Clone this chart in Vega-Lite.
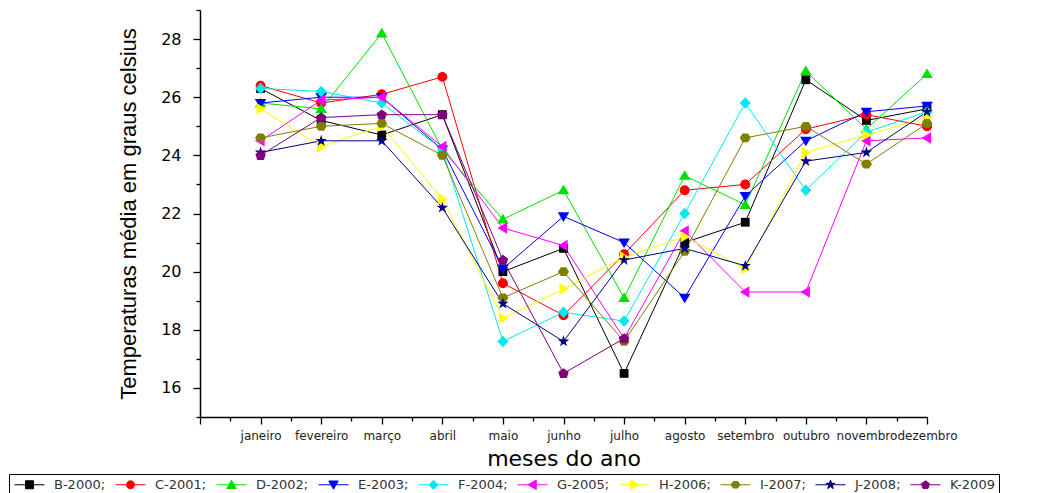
{
  "$schema": "https://vega.github.io/schema/vega-lite/v6.json",
  "width": 727,
  "height": 407,
  "autosize": {"type": "none"},
  "padding": {"left": 200, "top": 10, "right": 130, "bottom": 76},
  "background": "white",
  "config": {
    "view": {"stroke": null},
    "axis": {"grid": false, "domainColor": "#000", "domainWidth": 1.5, "tickColor": "#000", "tickWidth": 1.3, "labelColor": "#000", "titleColor": "#000", "titleFontWeight": "normal"}
  },
  "data": {"values": [
    {"serie": "B-2000", "mes": 1, "temp": 26.3}, {"serie": "B-2000", "mes": 2, "temp": 25.2}, {"serie": "B-2000", "mes": 3, "temp": 24.7}, {"serie": "B-2000", "mes": 4, "temp": 25.4}, {"serie": "B-2000", "mes": 5, "temp": 20.0}, {"serie": "B-2000", "mes": 6, "temp": 20.8}, {"serie": "B-2000", "mes": 7, "temp": 16.5}, {"serie": "B-2000", "mes": 8, "temp": 21.0}, {"serie": "B-2000", "mes": 9, "temp": 21.7}, {"serie": "B-2000", "mes": 10, "temp": 26.6}, {"serie": "B-2000", "mes": 11, "temp": 25.2}, {"serie": "B-2000", "mes": 12, "temp": 25.6},
    {"serie": "C-2001", "mes": 1, "temp": 26.4}, {"serie": "C-2001", "mes": 2, "temp": 25.8}, {"serie": "C-2001", "mes": 3, "temp": 26.1}, {"serie": "C-2001", "mes": 4, "temp": 26.7}, {"serie": "C-2001", "mes": 5, "temp": 19.6}, {"serie": "C-2001", "mes": 6, "temp": 18.5}, {"serie": "C-2001", "mes": 7, "temp": 20.6}, {"serie": "C-2001", "mes": 8, "temp": 22.8}, {"serie": "C-2001", "mes": 9, "temp": 23.0}, {"serie": "C-2001", "mes": 10, "temp": 24.9}, {"serie": "C-2001", "mes": 11, "temp": 25.4}, {"serie": "C-2001", "mes": 12, "temp": 25.0},
    {"serie": "D-2002", "mes": 1, "temp": 25.8}, {"serie": "D-2002", "mes": 2, "temp": 25.6}, {"serie": "D-2002", "mes": 3, "temp": 28.2}, {"serie": "D-2002", "mes": 4, "temp": 24.2}, {"serie": "D-2002", "mes": 5, "temp": 21.8}, {"serie": "D-2002", "mes": 6, "temp": 22.8}, {"serie": "D-2002", "mes": 7, "temp": 19.1}, {"serie": "D-2002", "mes": 8, "temp": 23.3}, {"serie": "D-2002", "mes": 9, "temp": 22.3}, {"serie": "D-2002", "mes": 10, "temp": 26.9}, {"serie": "D-2002", "mes": 11, "temp": 24.9}, {"serie": "D-2002", "mes": 12, "temp": 26.8},
    {"serie": "E-2003", "mes": 1, "temp": 25.8}, {"serie": "E-2003", "mes": 2, "temp": 26.0}, {"serie": "E-2003", "mes": 3, "temp": 26.0}, {"serie": "E-2003", "mes": 4, "temp": 24.2}, {"serie": "E-2003", "mes": 5, "temp": 20.1}, {"serie": "E-2003", "mes": 6, "temp": 21.9}, {"serie": "E-2003", "mes": 7, "temp": 21.0}, {"serie": "E-2003", "mes": 8, "temp": 19.1}, {"serie": "E-2003", "mes": 9, "temp": 22.6}, {"serie": "E-2003", "mes": 10, "temp": 24.5}, {"serie": "E-2003", "mes": 11, "temp": 25.5}, {"serie": "E-2003", "mes": 12, "temp": 25.7},
    {"serie": "F-2004", "mes": 1, "temp": 26.3}, {"serie": "F-2004", "mes": 2, "temp": 26.2}, {"serie": "F-2004", "mes": 3, "temp": 25.8}, {"serie": "F-2004", "mes": 4, "temp": 24.2}, {"serie": "F-2004", "mes": 5, "temp": 17.6}, {"serie": "F-2004", "mes": 6, "temp": 18.6}, {"serie": "F-2004", "mes": 7, "temp": 18.3}, {"serie": "F-2004", "mes": 8, "temp": 22.0}, {"serie": "F-2004", "mes": 9, "temp": 25.8}, {"serie": "F-2004", "mes": 10, "temp": 22.8}, {"serie": "F-2004", "mes": 11, "temp": 24.8}, {"serie": "F-2004", "mes": 12, "temp": 25.5},
    {"serie": "G-2005", "mes": 1, "temp": 24.5}, {"serie": "G-2005", "mes": 2, "temp": 25.9}, {"serie": "G-2005", "mes": 3, "temp": 26.0}, {"serie": "G-2005", "mes": 4, "temp": 24.3}, {"serie": "G-2005", "mes": 5, "temp": 21.5}, {"serie": "G-2005", "mes": 6, "temp": 20.9}, {"serie": "G-2005", "mes": 7, "temp": 17.7}, {"serie": "G-2005", "mes": 8, "temp": 21.4}, {"serie": "G-2005", "mes": 9, "temp": 19.3}, {"serie": "G-2005", "mes": 10, "temp": 19.3}, {"serie": "G-2005", "mes": 11, "temp": 24.5}, {"serie": "G-2005", "mes": 12, "temp": 24.6},
    {"serie": "H-2006", "mes": 1, "temp": 25.6}, {"serie": "H-2006", "mes": 2, "temp": 24.3}, {"serie": "H-2006", "mes": 3, "temp": 25.0}, {"serie": "H-2006", "mes": 4, "temp": 22.5}, {"serie": "H-2006", "mes": 5, "temp": 18.4}, {"serie": "H-2006", "mes": 6, "temp": 19.4}, {"serie": "H-2006", "mes": 7, "temp": 20.5}, {"serie": "H-2006", "mes": 8, "temp": 21.2}, {"serie": "H-2006", "mes": 9, "temp": 20.1}, {"serie": "H-2006", "mes": 10, "temp": 24.1}, {"serie": "H-2006", "mes": 11, "temp": 24.7}, {"serie": "H-2006", "mes": 12, "temp": 25.3},
    {"serie": "I-2007", "mes": 1, "temp": 24.6}, {"serie": "I-2007", "mes": 2, "temp": 25.0}, {"serie": "I-2007", "mes": 3, "temp": 25.1}, {"serie": "I-2007", "mes": 4, "temp": 24.0}, {"serie": "I-2007", "mes": 5, "temp": 19.1}, {"serie": "I-2007", "mes": 6, "temp": 20.0}, {"serie": "I-2007", "mes": 7, "temp": 17.6}, {"serie": "I-2007", "mes": 8, "temp": 20.7}, {"serie": "I-2007", "mes": 9, "temp": 24.6}, {"serie": "I-2007", "mes": 10, "temp": 25.0}, {"serie": "I-2007", "mes": 11, "temp": 23.7}, {"serie": "I-2007", "mes": 12, "temp": 25.1},
    {"serie": "J-2008", "mes": 1, "temp": 24.1}, {"serie": "J-2008", "mes": 2, "temp": 24.5}, {"serie": "J-2008", "mes": 3, "temp": 24.5}, {"serie": "J-2008", "mes": 4, "temp": 22.2}, {"serie": "J-2008", "mes": 5, "temp": 18.9}, {"serie": "J-2008", "mes": 6, "temp": 17.6}, {"serie": "J-2008", "mes": 7, "temp": 20.4}, {"serie": "J-2008", "mes": 8, "temp": 20.8}, {"serie": "J-2008", "mes": 9, "temp": 20.2}, {"serie": "J-2008", "mes": 10, "temp": 23.8}, {"serie": "J-2008", "mes": 11, "temp": 24.1}, {"serie": "J-2008", "mes": 12, "temp": 25.5},
    {"serie": "K-2009", "mes": 1, "temp": 24.0}, {"serie": "K-2009", "mes": 2, "temp": 25.3}, {"serie": "K-2009", "mes": 3, "temp": 25.4}, {"serie": "K-2009", "mes": 4, "temp": 25.4}, {"serie": "K-2009", "mes": 5, "temp": 20.4}, {"serie": "K-2009", "mes": 6, "temp": 16.5}, {"serie": "K-2009", "mes": 7, "temp": 17.7}
  ]},
  "encoding": {
    "x": {
      "field": "mes", "type": "quantitative",
      "scale": {"domain": [0, 12], "nice": false, "zero": false},
      "axis": {
        "values": [0, 0.5, 1, 1.5, 2, 2.5, 3, 3.5, 4, 4.5, 5, 5.5, 6, 6.5, 7, 7.5, 8, 8.5, 9, 9.5, 10, 10.5, 11, 11.5, 12],
        "labelExpr": "datum.value % 1 === 0 && datum.value > 0 ? ['janeiro','fevereiro','março','abril','maio','junho','julho','agosto','setembro','outubro','novembro','dezembro'][datum.value - 1] : ''",
        "labelOverlap": false, "labelFlush": false,
        "labelFont": "DejaVu Sans", "labelFontSize": 12, "labelPadding": 6, "labelColor": "#222",
        "tickSize": {"condition": {"test": "datum.value % 1 === 0", "value": 7}, "value": 4},
        "title": "meses do ano", "titleFont": "DejaVu Sans", "titleFontSize": 22, "titlePadding": 7
      }
    },
    "y": {
      "field": "temp", "type": "quantitative",
      "scale": {"domain": [15, 29], "nice": false, "zero": false},
      "axis": {
        "values": [15, 16, 17, 18, 19, 20, 21, 22, 23, 24, 25, 26, 27, 28, 29],
        "labelExpr": "datum.value % 2 === 0 ? datum.label : ''",
        "labelOverlap": false, "labelFlush": false,
        "labelFont": "DejaVu Sans", "labelFontSize": 16, "labelPadding": 12,
        "tickSize": {"condition": {"test": "datum.value % 2 === 0", "value": 7}, "value": 4},
        "title": "Temperaturas média em graus celsius", "titleFont": "Liberation Sans", "titleFontSize": 22, "titlePadding": 20
      }
    },
    "color": {
      "field": "serie", "type": "nominal",
      "scale": {
        "domain": ["B-2000", "C-2001", "D-2002", "E-2003", "F-2004", "G-2005", "H-2006", "I-2007", "J-2008", "K-2009"],
        "range": ["#000000", "#FF0000", "#00E000", "#0000FF", "#00E8F0", "#FF00FF", "#FFFF00", "#808000", "#000080", "#800080"]
      },
      "legend": {
        "orient": "none", "legendX": -191, "legendY": 464,
        "direction": "horizontal", "columns": 10, "title": null,
        "strokeColor": "#000", "padding": 4,
        "symbolSize": 100, "labelOffset": 28, "columnPadding": 7, "rowPadding": 0,
        "labelFont": "DejaVu Sans", "labelFontSize": 13, "labelColor": "#333",
        "labelExpr": "datum.label == 'K-2009' ? datum.label + '\u00a0\u00a0\u00a0\u00a0\u00a0\u00a0\u00a0\u00a0\u00a0\u00a0\u00a0\u00a0' : datum.label + ';'",
        "encode": {
          "symbols": {
            "update": {
              "shape": {"signal": "{'B-2000':'M-1,0H5M1.2,-0.8H2.8V0.8H1.2Z','C-2001':'M-1,0H5M1.2,0A0.8,0.8,0,1,0,2.8,0A0.8,0.8,0,1,0,1.2,0Z','D-2002':'M-1,0H5M2,-0.9L2.95,0.75L1.05,0.75Z','E-2003':'M-1,0H5M2,0.9L2.95,-0.75L1.05,-0.75Z','F-2004':'M-1,0H5M2,-0.9L2.9,0L2,0.9L1.1,0Z','G-2005':'M-1,0H5M1.1,0L2.75,-0.95L2.75,0.95Z','H-2006':'M-1,0H5M2.9,0L1.25,-0.95L1.25,0.95Z','I-2007':'M-1,0H5M1.1,0L1.55,-0.65L2.45,-0.65L2.9,0L2.45,0.65L1.55,0.65Z','J-2008':'M-1,0H5M2,-0.95L2.21,-0.29L2.9,-0.29L2.35,0.11L2.56,0.77L2,0.36L1.44,0.77L1.65,0.11L1.1,-0.29L1.79,-0.29Z','K-2009':'M-1,0H5M2,-0.8L2.81,-0.21L2.5,0.74L1.5,0.74L1.19,-0.21Z'}[datum.value]"},
              "fill": {"scale": "color", "field": "value"},
              "stroke": {"scale": "color", "field": "value"},
              "strokeWidth": {"value": 1},
              "opacity": {"value": 1},
              "size": {"value": 100}
            }
          }
        }
      }
    }
  },
  "layer": [
    {"mark": {"type": "line", "strokeWidth": 1}},
    {
      "mark": {"type": "point", "filled": true, "opacity": 1, "size": 121},
      "encoding": {
        "shape": {
          "field": "serie", "type": "nominal",
          "scale": {
            "range": [
              "M-0.8,-0.8H0.8V0.8H-0.8Z",
              "M-0.9,0A0.9,0.9,0,1,0,0.9,0A0.9,0.9,0,1,0,-0.9,0Z",
              "M0,-1L1.05,0.75L-1.05,0.75Z",
              "M0,1L1.05,-0.75L-1.05,-0.75Z",
              "M0,-1.05L1,0L0,1.05L-1,0Z",
              "M-1,0L0.75,-1.05L0.75,1.05Z",
              "M1,0L-0.75,-1.05L-0.75,1.05Z",
              "M-1,0L-0.5,-0.8L0.5,-0.8L1,0L0.5,0.8L-0.5,0.8Z",
              "M0,-1.1L0.24,-0.34L1.05,-0.34L0.4,0.13L0.65,0.89L0,0.42L-0.65,0.89L-0.4,0.13L-1.05,-0.34L-0.24,-0.34Z",
              "M0,-0.95L0.95,-0.25L0.6,0.85L-0.6,0.85L-0.95,-0.25Z"
            ]
          },
          "legend": null
        }
      }
    }
  ]
}
